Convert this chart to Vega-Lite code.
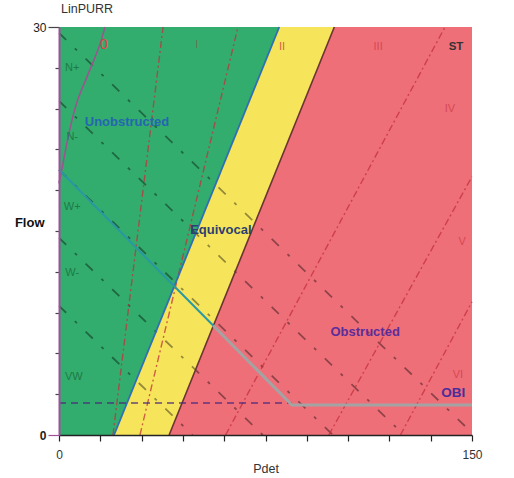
{
  "$schema": "https://vega.github.io/schema/vega-lite/v6.json",
  "width": 413,
  "height": 408,
  "autosize": {"type": "none"},
  "padding": {"left": 59, "top": 27, "right": 42, "bottom": 43},
  "background": "white",
  "title": {"text": "LinPURR", "anchor": "start", "frame": "group", "fontSize": 12.5, "fontWeight": "normal", "font": "Liberation Sans", "color": "#333333", "offset": 6, "dx": 2},
  "config": {"view": {"stroke": null}, "font": "Liberation Sans"},
  "datasets": {
    "zones": [
      {"zone": "green", "Q": 0, "P": 0, "P2": 20},
      {"zone": "green", "Q": 30, "P": 0, "P2": 80},
      {"zone": "yellow", "Q": 0, "P": 20, "P2": 40},
      {"zone": "yellow", "Q": 30, "P": 80, "P2": 100},
      {"zone": "red", "Q": 0, "P": 40, "P2": 150},
      {"zone": "red", "Q": 30, "P": 100, "P2": 150}
    ],
    "grades": [
      {"id": "a", "P": 19.6, "Q": 0}, {"id": "a", "P": 37.8, "Q": 30},
      {"id": "b", "P": 29.4, "Q": 0}, {"id": "b", "P": 65, "Q": 30},
      {"id": "c", "P": 60.5, "Q": 0}, {"id": "c", "P": 140.2, "Q": 30},
      {"id": "d", "P": 98, "Q": 0}, {"id": "d", "P": 150, "Q": 19},
      {"id": "e", "P": 124, "Q": 0}, {"id": "e", "P": 150, "Q": 9.8}
    ],
    "grade0": [
      {"P": 0, "Q": 18.5}, {"P": 1.1, "Q": 19.6}, {"P": 3, "Q": 21.6}, {"P": 5.8, "Q": 24},
      {"P": 10.5, "Q": 26.5}, {"P": 15.6, "Q": 29.2}, {"P": 16.7, "Q": 30}
    ],
    "contract": [
      {"id": "L1", "P": 0, "Q": 29.56}, {"id": "L1", "P": 150, "Q": 0.16},
      {"id": "L2", "P": 0, "Q": 24.56}, {"id": "L2", "P": 125.3, "Q": 0},
      {"id": "L3", "P": 0, "Q": 19.5}, {"id": "L3", "P": 99.5, "Q": 0},
      {"id": "L4", "P": 0, "Q": 14.5}, {"id": "L4", "P": 74, "Q": 0},
      {"id": "L5", "P": 0, "Q": 9.5}, {"id": "L5", "P": 48.5, "Q": 0}
    ],
    "bounds": [
      {"id": "gy", "P": 20, "Q": 0}, {"id": "gy", "P": 80, "Q": 30}
    ],
    "bounds2": [
      {"id": "yr", "P": 40, "Q": 0}, {"id": "yr", "P": 100, "Q": 30}
    ],
    "teal": [{"P": 0, "Q": 19.5}, {"P": 56, "Q": 8.05}],
    "grey": [{"P": 56, "Q": 8.05}, {"P": 84.6, "Q": 2.2}, {"P": 150, "Q": 2.2}],
    "hdash": [{"P": 0, "Q": 2.35}, {"P": 84.6, "Q": 2.35}],
    "lblUnob": [{"label": "Unobstructed", "P": 24.7, "Q": 23.0}],
    "lblEqui": [{"label": "Equivocal", "P": 58.8, "Q": 15.1}],
    "lblObst": [{"label": "Obstructed", "P": 111.2, "Q": 7.6}],
    "lblObi": [{"label": "OBI", "P": 143.2, "Q": 3.1}],
    "contractLabels": [
      {"label": "N+", "P": 4.8, "Q": 27.0},
      {"label": "N-", "P": 4.8, "Q": 21.9},
      {"label": "W+", "P": 4.8, "Q": 16.8},
      {"label": "W-", "P": 4.8, "Q": 11.9},
      {"label": "VW", "P": 5.4, "Q": 4.3}
    ],
    "gradeLabels": [
      {"label": "I", "P": 50.1, "Q": 28.7},
      {"label": "II", "P": 81.0, "Q": 28.5},
      {"label": "III", "P": 115.9, "Q": 28.5},
      {"label": "IV", "P": 142.0, "Q": 24.0},
      {"label": "V", "P": 146.4, "Q": 14.2},
      {"label": "VI", "P": 144.9, "Q": 4.4}
    ],
    "zeroLabel": [{"label": "0", "P": 16.3, "Q": 28.7}],
    "stLabel": [{"label": "ST", "P": 144.2, "Q": 28.5}]
  },
  "encoding": {
    "x": {
      "field": "P", "type": "quantitative",
      "scale": {"domain": [0, 150], "nice": false, "zero": false},
      "axis": {
        "values": [0, 15, 30, 45, 60, 75, 90, 105, 120, 135, 150],
        "labelExpr": "datum.value == 0 || datum.value == 150 ? datum.label : ''",
        "grid": false, "zindex": 1,
        "domainColor": "#222222", "domainWidth": 1.5,
        "tickColor": "#222222", "tickSize": 6, "tickWidth": 1.2,
        "labelFontSize": 12, "labelColor": "#333333", "labelPadding": 8, "labelFlush": false,
        "title": "Pdet", "titleFontSize": 12.5, "titleFontWeight": "normal", "titleColor": "#333333",
        "titleY": 37, "titleBaseline": "alphabetic"
      }
    },
    "y": {
      "field": "Q", "type": "quantitative",
      "scale": {"domain": [0, 30], "nice": false, "zero": false},
      "axis": {
        "values": [0, 3, 6, 9, 12, 15, 18, 21, 24, 27, 30],
        "labelExpr": "datum.value == 0 || datum.value == 30 ? datum.label : ''",
        "grid": false, "zindex": 1,
        "domainColor": "#a0509a", "domainWidth": 2,
        "tickColor": {"condition": {"test": "datum.value == 0", "value": "#a0509a"}, "value": "#444444"},
        "tickSize": {"condition": {"test": "datum.value == 0 || datum.value == 30", "value": 11}, "value": 4},
        "tickWidth": 1.2,
        "labelFontSize": 12, "labelColor": "#222222", "labelPadding": 2,
        "labelFontWeight": {"condition": {"test": "datum.value == 0", "value": "bold"}, "value": "normal"},
        "title": "Flow", "titleAngle": 0, "titleAlign": "right", "titleBaseline": "middle",
        "titleX": -15, "titleY": 195, "titleFontSize": 13, "titleFontWeight": "bold", "titleColor": "#111111"
      }
    }
  },
  "layer": [
    {
      "data": {"name": "zones"},
      "mark": {"type": "area", "orient": "horizontal"},
      "encoding": {
        "x2": {"field": "P2"},
        "color": {"field": "zone", "type": "nominal", "scale": {"domain": ["green", "yellow", "red"], "range": ["#33ad6e", "#f6e55a", "#ef6f79"]}, "legend": null}
      }
    },
    {
      "data": {"name": "contract"},
      "mark": {"type": "line", "color": "#000000", "opacity": 0.4, "strokeWidth": 1.8, "strokeDash": [10, 12, 3, 12]},
      "encoding": {"detail": {"field": "id"}}
    },
    {
      "data": {"name": "grades"},
      "mark": {"type": "line", "color": "#c2303c", "opacity": 0.75, "strokeWidth": 1.4, "strokeDash": [7, 3, 2, 3]},
      "encoding": {"detail": {"field": "id"}}
    },
    {
      "data": {"name": "bounds2"},
      "mark": {"type": "line", "color": "#6a3434", "strokeWidth": 1.6},
      "encoding": {}
    },
    {
      "data": {"name": "bounds"},
      "mark": {"type": "line", "color": "#2f6fb5", "strokeWidth": 1.8},
      "encoding": {}
    },
    {
      "data": {"name": "grade0"},
      "mark": {"type": "line", "color": "#9a5590", "strokeWidth": 1.6, "interpolate": "monotone"},
      "encoding": {}
    },
    {
      "data": {"name": "hdash"},
      "mark": {"type": "line", "color": "#4a2a7a", "opacity": 0.85, "strokeWidth": 1.5, "strokeDash": [7, 5]},
      "encoding": {}
    },
    {
      "data": {"name": "teal"},
      "mark": {"type": "line", "color": "#2a98a4", "strokeWidth": 2},
      "encoding": {}
    },
    {
      "data": {"name": "grey"},
      "mark": {"type": "line", "color": "#a3a3a3", "strokeWidth": 3},
      "encoding": {}
    },
    {
      "data": {"name": "lblUnob"},
      "mark": {"type": "text", "fontWeight": "bold", "fontSize": 13, "color": "#2466b0", "align": "center", "baseline": "middle"},
      "encoding": {"text": {"field": "label"}}
    },
    {
      "data": {"name": "lblEqui"},
      "mark": {"type": "text", "fontWeight": "bold", "fontSize": 13, "color": "#2b3f70", "align": "center", "baseline": "middle"},
      "encoding": {"text": {"field": "label"}}
    },
    {
      "data": {"name": "lblObst"},
      "mark": {"type": "text", "fontWeight": "bold", "fontSize": 13, "color": "#5b2d9a", "align": "center", "baseline": "middle"},
      "encoding": {"text": {"field": "label"}}
    },
    {
      "data": {"name": "lblObi"},
      "mark": {"type": "text", "fontWeight": "bold", "fontSize": 13.5, "color": "#4b2d9a", "align": "center", "baseline": "middle"},
      "encoding": {"text": {"field": "label"}}
    },
    {
      "data": {"name": "contractLabels"},
      "mark": {"type": "text", "fontSize": 11, "color": "#1d7a45", "align": "center", "baseline": "middle"},
      "encoding": {"text": {"field": "label"}}
    },
    {
      "data": {"name": "gradeLabels"},
      "mark": {"type": "text", "fontSize": 11, "color": "#d0404a", "opacity": 0.8, "align": "center", "baseline": "middle"},
      "encoding": {"text": {"field": "label"}}
    },
    {
      "data": {"name": "zeroLabel"},
      "mark": {"type": "text", "fontSize": 14, "color": "#e0404a", "align": "center", "baseline": "middle"},
      "encoding": {"text": {"field": "label"}}
    },
    {
      "data": {"name": "stLabel"},
      "mark": {"type": "text", "fontSize": 11.5, "fontWeight": "bold", "color": "#333333", "align": "center", "baseline": "middle"},
      "encoding": {"text": {"field": "label"}}
    },
    {
      "data": {"values": [{}]},
      "mark": {"type": "rect", "fill": null, "stroke": "#222222", "strokeWidth": 1.5},
      "encoding": {
        "x": {"datum": 0},
        "x2": {"datum": 150},
        "y": {"datum": 0},
        "y2": {"datum": 30}
      }
    }
  ]
}
